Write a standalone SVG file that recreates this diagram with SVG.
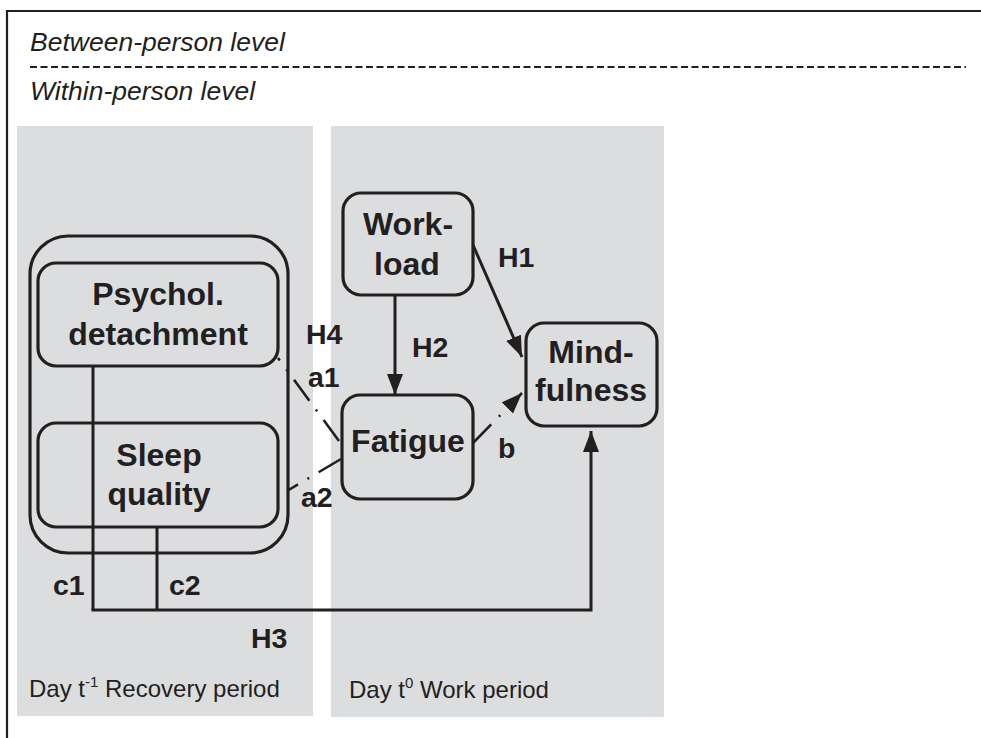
<svg xmlns="http://www.w3.org/2000/svg" width="981" height="738" viewBox="0 0 981 738">
<style>
.panel{fill:#dcdddf;stroke:none}
.box{fill:none;stroke:#231f20;stroke-width:3.2}
.node{font-family:"Liberation Sans",Arial,sans-serif;font-weight:bold;font-size:32px;fill:#231f20;text-anchor:middle}
.lbl{font-family:"Liberation Sans",Arial,sans-serif;font-weight:bold;font-size:28.5px;fill:#231f20}
.lvl{font-family:"Liberation Sans",Arial,sans-serif;font-style:italic;font-size:26.5px;fill:#231f20}
.day{font-family:"Liberation Sans",Arial,sans-serif;font-size:24px;fill:#231f20}
.ln{fill:none;stroke:#231f20;stroke-width:3}
.dd{fill:none;stroke:#231f20;stroke-width:2.6;stroke-dasharray:26 11 2 11}
</style>
<defs>
<marker id="ah" markerUnits="userSpaceOnUse" markerWidth="22" markerHeight="18" refX="21" refY="8" orient="auto">
<path d="M0,0 L21,8 L0,16 Z" fill="#231f20"/>
</marker>
</defs>
<rect width="981" height="738" fill="#ffffff"/>
<path d="M7,738 V11 H981" fill="none" stroke="#231f20" stroke-width="2.2"/>
<text class="lvl" x="30" y="51">Between-person level</text>
<line x1="30" y1="67" x2="966" y2="67" stroke="#231f20" stroke-width="2.2" stroke-dasharray="7 3.5"/>
<text class="lvl" x="30" y="100">Within-person level</text>
<g id="panel-recovery">
<rect class="panel" x="17" y="126" width="296" height="590"/>
<text class="day" x="29" y="697">Day t<tspan font-size="15" dy="-10">-1</tspan><tspan dy="10"> Recovery period</tspan></text>
</g>
<g id="panel-work">
<rect class="panel" x="331" y="126" width="333" height="591"/>
<text class="day" x="349" y="698">Day t<tspan font-size="15" dy="-10">0</tspan><tspan dy="10"> Work period</tspan></text>
</g>
<g id="recovery-group">
<rect class="box" x="30" y="236" width="258" height="317" rx="38"/>
</g>
<g id="psychol-detachment">
<rect class="box" x="38" y="263" width="240" height="103" rx="18"/>
<text class="node" x="158" y="305">Psychol.</text>
<text class="node" x="158" y="345">detachment</text>
</g>
<g id="sleep-quality">
<rect class="box" x="38" y="423" width="240" height="104" rx="18"/>
<text class="node" x="159" y="466">Sleep</text>
<text class="node" x="159" y="505">quality</text>
</g>
<g id="workload">
<rect class="box" x="343" y="193" width="130" height="102" rx="18"/>
<text class="node" x="408" y="235">Work-</text>
<text class="node" x="407" y="275">load</text>
</g>
<g id="fatigue">
<rect class="box" x="342" y="395" width="131" height="104" rx="18"/>
<text class="node" x="408" y="452">Fatigue</text>
</g>
<g id="mindfulness">
<rect class="box" x="526" y="323" width="131" height="103" rx="18"/>
<text class="node" x="591" y="363">Mind-</text>
<text class="node" x="591" y="401">fulness</text>
</g>
<g id="connectors">
<line class="ln" x1="395" y1="295" x2="395" y2="395" marker-end="url(#ah)"/>
<line class="ln" x1="473" y1="245" x2="522" y2="357" marker-end="url(#ah)"/>
<line class="dd" x1="473" y1="443" x2="522" y2="393" marker-end="url(#ah)"/>
<line class="dd" x1="339" y1="441" x2="278" y2="358"/>
<line class="dd" x1="341" y1="459" x2="287" y2="491"/>
<line class="ln" x1="93" y1="366" x2="93" y2="610"/>
<line class="ln" x1="157" y1="527" x2="157" y2="610"/>
<polyline class="ln" points="91.5,610 591,610 591,431" marker-end="url(#ah)"/>
</g>
<g id="labels">
<text class="lbl" x="498" y="267">H1</text>
<text class="lbl" x="412" y="357">H2</text>
<text class="lbl" x="306" y="344">H4</text>
<text class="lbl" x="308" y="387">a1</text>
<text class="lbl" x="301" y="507">a2</text>
<text class="lbl" x="498" y="458">b</text>
<text class="lbl" x="53" y="595">c1</text>
<text class="lbl" x="169" y="595">c2</text>
<text class="lbl" x="251" y="648">H3</text>
</g>
</svg>
